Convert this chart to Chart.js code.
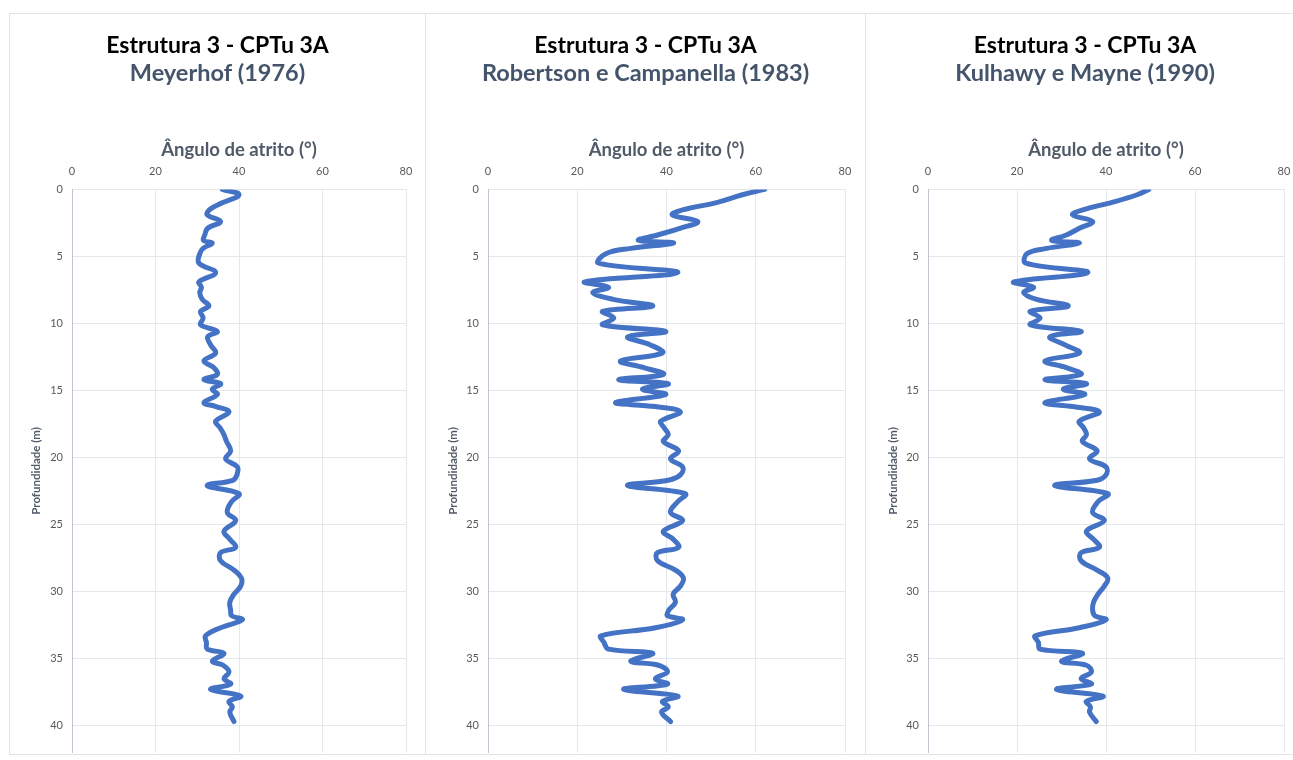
<!DOCTYPE html>
<html>
<head>
<meta charset="utf-8">
<script src="https://cdn.jsdelivr.net/npm/chart.js@4.4.1/dist/chart.umd.min.js"></script>
<style>
  html, body { margin: 0; padding: 0; background: #ffffff; width: 1293px; height: 760px; overflow: hidden; }
  .panel { position: absolute; top: 13px; height: 742px; border: 1px solid #E3E3E3; box-sizing: border-box; overflow: visible; }
  .panel canvas { display: block; }
</style>
</head>
<body>
<div class="panel" style="left:9px;width:417px;"><canvas id="c1" width="415" height="754"></canvas></div>
<div class="panel" style="left:425px;width:441px;"><canvas id="c2" width="439" height="754"></canvas></div>
<div class="panel" style="left:865px;width:440px;"><canvas id="c3" width="438" height="754"></canvas></div>
<script>
// ---- Data ----
const depth = [0, 0.4, 1.0, 1.5, 1.9, 2.4, 2.9, 3.4, 3.8, 4.0, 4.4, 4.8, 5.5, 6.2, 6.9, 7.3, 7.7, 8.2, 8.7, 9.1,
  9.6, 10.1, 10.6, 11.0, 11.6, 12.2, 12.8, 13.3, 13.8, 14.2, 14.5, 14.9, 15.3, 15.9, 16.2, 16.6, 17.3, 17.8, 18.3, 18.8,
  19.5, 20.1, 20.7, 21.3, 21.7, 22.1, 22.7, 23.3, 24.1, 24.7, 25.5, 26.1, 26.7, 27.1, 27.7, 28.4, 29.0, 29.6, 30.2, 30.8,
  31.4, 31.8, 32.1, 32.7, 33.3, 33.8, 34.3, 34.6, 35.2, 35.5, 36.0, 36.5, 36.9, 37.3, 37.8, 38.2, 38.6, 39.0, 39.7];

const phiMeyerhof = [36, 40, 36, 33, 32.4, 35.6, 32.5, 31.8, 31.5, 33.6, 31.4, 30.6, 30.4, 34.4, 30.4, 31, 30.6, 31.2, 32.8, 30.8,
  31.4, 30.8, 34.8, 32.5, 33.2, 34.4, 31.6, 34.0, 34.8, 31.6, 35.6, 33.6, 34.8, 31.6, 34.5, 37.6, 34.4, 35.5, 36.4, 37.0,
  38, 36.8, 39.6, 39.5, 38.5, 32.4, 40, 38.2, 37.2, 39.2, 36.4, 37.8, 39.2, 35.6, 35.6, 38.8, 40.6, 40.4, 38.8, 37.8,
  38, 38.2, 40.8, 35.6, 32, 32.2, 32.4, 36.4, 33.6, 36.2, 37.6, 36.4, 38, 33.2, 40.4, 37.6, 38.4, 37.8, 38.8];

const phiRobertson = [62, 57, 51, 44, 41.3, 47, 43, 38, 33.7, 41.6, 32, 26.4, 24.8, 42.5, 21.7, 27, 23.5, 28, 36.9, 25.7,
  28.2, 25.7, 39.8, 31.3, 36.4, 39.1, 29.7, 34.9, 39.3, 29.3, 40.4, 34.6, 39.8, 28.6, 37.5, 43.1, 38.7, 39.5, 40.4, 39.3,
  42.7, 40.9, 43.6, 43.1, 40.4, 31.3, 44.2, 42.5, 40.9, 43.6, 39.3, 41.5, 42.7, 38, 38, 42, 43.8, 43.1, 41.5, 42,
  40.5, 40.2, 43.6, 37.5, 25.3, 26, 27, 36.9, 32, 38.2, 40.2, 37.5, 40.2, 30.4, 42.5, 39.1, 40.4, 38.9, 40.9];

const phiKulhawy = [49.6, 47, 41, 35, 32.5, 37, 34, 31.1, 27.8, 34, 26.7, 22.2, 22, 35.9, 19.3, 23.7, 21.5, 24.4, 31.5, 23,
  25.2, 23, 34.4, 27.4, 30.8, 34, 26.3, 31.1, 34.4, 26.3, 35.6, 30.4, 35.2, 26.3, 32.5, 38.5, 34, 35, 35.6, 34.7,
  38, 36.3, 40, 40, 38, 28.5, 40.4, 38.2, 37, 39.6, 35.6, 37.2, 38.5, 34.4, 34.4, 38, 40.4, 39.6, 38.2, 37.2,
  37, 37.5, 40, 34, 24.1, 24.8, 25.2, 34.7, 30, 35.6, 36.7, 34.4, 36.7, 28.9, 39.3, 35.6, 36.5, 36.3, 37.8];

const chartTitle = 'Estrutura 3 - CPTu 3A';
const methodNames = ['Meyerhof (1976)', 'Robertson e Campanella (1983)', 'Kulhawy e Mayne (1990)'];
const xAxisTitle = 'Ângulo de atrito (°)';
const yAxisTitle = 'Profundidade (m)';
const xTicks = [0, 20, 40, 60, 80];
const yTicks = [0, 5, 10, 15, 20, 25, 30, 35, 40];

// ---- Chart construction ----
const FONT = "Lato, 'Open Sans', sans-serif";
function makePoints(vals) { return vals.map((v, i) => ({ x: v, y: depth[i] })); }

function build(canvasId, subtitle, vals, sidePad) {
  const ctx = document.getElementById(canvasId);
  return new Chart(ctx, {
    type: 'scatter',
    data: {
      datasets: [{
        data: makePoints(vals),
        showLine: true,
        borderColor: '#4472C4',
        backgroundColor: '#4472C4',
        borderWidth: 5,
        pointRadius: 0,
        tension: 0.4,
        borderCapStyle: 'round',
        borderJoinStyle: 'round'
      }]
    },
    options: {
      responsive: false,
      animation: false,
      devicePixelRatio: 1,
      layout: { padding: { left: sidePad, right: sidePad, top: 0, bottom: 2 } },
      plugins: {
        legend: { display: false },
        tooltip: { enabled: false },
        title: {
          display: true,
          text: chartTitle,
          color: '#000000',
          font: { family: FONT, size: 23, weight: 'bold', lineHeight: 1.2 },
          padding: { top: 18, bottom: 0 }
        },
        subtitle: {
          display: true,
          text: subtitle,
          color: '#44546A',
          font: { family: FONT, size: 23.5, weight: 'bold', lineHeight: 1.2 },
          padding: { top: 0, bottom: 0 }
        }
      },
      scales: {
        x: {
          type: 'linear',
          position: 'top',
          min: 0, max: 80,
          afterBuildTicks: (s) => { s.ticks = xTicks.map(v => ({ value: v })); },
          afterFit: (s) => { s.height = 101.6; },
          ticks: { color: '#595959', font: { family: FONT, size: 11 }, padding: 11 },
          grid: { color: '#E4E7EC', lineWidth: 1, drawTicks: false },
          border: { display: true, color: '#E4E7EC' },
          title: {
            display: true,
            text: xAxisTitle,
            color: '#505A68',
            font: { family: FONT, size: 18.5, weight: 'bold', lineHeight: 1.2 },
            padding: { top: 51, bottom: 0 }
          }
        },
        y: {
          type: 'linear',
          reverse: true,
          min: 0, max: 42,
          afterBuildTicks: (s) => { s.ticks = yTicks.map(v => ({ value: v })); },
          afterFit: (s) => { s.width = 62 - sidePad; },
          ticks: { color: '#595959', font: { family: FONT, size: 11 }, padding: 9 },
          grid: { color: '#E4E7EC', lineWidth: 1, drawTicks: false },
          border: { display: true, color: '#BFC6D0' },
          title: {
            display: true,
            text: yAxisTitle,
            color: '#505A68',
            font: { family: FONT, size: 11.5, weight: 'bold', lineHeight: 1.2 },
            padding: { top: 0, bottom: 0 }
          }
        }
      }
    }
  });
}

build('c1', methodNames[0], phiMeyerhof, 19);
build('c2', methodNames[1], phiRobertson, 20);
build('c3', methodNames[2], phiKulhawy, 20);
</script>
</body>
</html>
